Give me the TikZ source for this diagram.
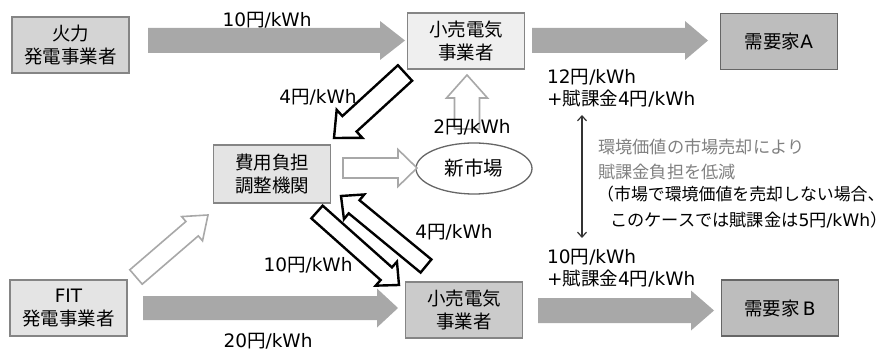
\documentclass[tikz,border=0pt]{standalone}
\usepackage{fontspec}
\setmainfont{Noto Sans CJK JP}
\newfontfamily\lt{DejaVu Sans}
\usetikzlibrary{calc,arrows.meta,shapes.geometric}
\definecolor{bxA}{HTML}{D4D4D4}
\definecolor{bxL}{HTML}{EFEFEF}
\definecolor{bxD}{HTML}{BDBDBD}
\definecolor{bxM}{HTML}{CBCBCB}
\definecolor{bxF}{HTML}{E4E4E4}
\definecolor{arrG}{HTML}{A8A8A8}
\definecolor{edgeG}{HTML}{858585}
\definecolor{txtG}{HTML}{808080}
\newcommand{\blkarrow}[7]{%
  \coordinate (#1-h) at ($(#3)!#6!(#2)$);
  \draw[#7] ($(#2)!#4!90:(#3)$) -- ($(#1-h)!#4!90:(#3)$) -- ($(#1-h)!#5!90:(#3)$) -- (#3)
    -- ($(#1-h)!#5!-90:(#3)$) -- ($(#1-h)!#4!-90:(#3)$) -- ($(#2)!#4!-90:(#3)$) -- cycle;}
\newcommand{\yen}[2]{{\lt #1}円{\lt /kWh}#2}
\tikzset{
  box/.style={draw=edgeG, line width=1.3pt, minimum width=117pt, minimum height=56pt,
    align=center, inner sep=0pt, font=\fontsize{18.5}{23}\selectfont},
  lbl/.style={font=\fontsize{18.5}{22}\selectfont, inner sep=0pt},
  note/.style={font=\fontsize{17.2}{22}\selectfont, inner sep=0pt, anchor=west},
  garrow/.style={fill=arrG, draw=none},
  barrow/.style={fill=white, draw=black, line width=2.4pt, line join=miter},
  larrow/.style={fill=white, draw=arrG, line width=1.6pt, line join=miter},
}
\begin{document}
\begin{tikzpicture}[x=1pt,y=-1pt]
\useasboundingbox (0,0) rectangle (890,352);
% boxes
\node[box, fill=bxA] (hk) at (70.5,45) {火力\\発電事業者};
\node[box, fill=bxL] (k1) at (466,41) {小売電気\\事業者};
\node[box, fill=bxD, draw=black!60] (ja) at (779,41.5) {需要家{\lt A}};
\node[box, fill=bxF, minimum height=58pt] (hy) at (272,174) {費用負担\\調整機関};
\node[ellipse, draw=black!60, line width=1.3pt, minimum width=116pt, minimum height=51pt,
  inner sep=0pt, font=\fontsize{19.5}{23}\selectfont] (sm) at (474,168.5) {新市場};
\node[box, fill=bxF] (fit) at (68.5,308) {{\lt FIT}\\発電事業者};
\node[box, fill=bxM] (k2) at (464,310) {小売電気\\事業者};
\node[box, fill=bxD, draw=black!60] (jb) at (780,308) {需要家{\lt\hspace{3pt}B}};
% big gray arrows
\coordinate (g1t) at (148,40.5); \coordinate (g1p) at (405,40.5);
\blkarrow{g1}{g1t}{g1p}{12.5pt}{19.5pt}{25pt}{garrow}
\coordinate (g2t) at (532,40.5); \coordinate (g2p) at (708,40.5);
\blkarrow{g2}{g2t}{g2p}{12.5pt}{19.5pt}{23pt}{garrow}
\coordinate (g3t) at (143,308); \coordinate (g3p) at (398,308);
\blkarrow{g3}{g3t}{g3p}{12pt}{19.5pt}{21pt}{garrow}
\coordinate (g4t) at (538,310.5); \coordinate (g4p) at (714,310.5);
\blkarrow{g4}{g4t}{g4p}{12.5pt}{20pt}{23pt}{garrow}
% outline gray arrows
\coordinate (a1t) at (467,129); \coordinate (a1p) at (467,75);
\blkarrow{a1}{a1t}{a1p}{12.5pt}{20.5pt}{23pt}{larrow}
\coordinate (a2t) at (343,168); \coordinate (a2p) at (417,168);
\blkarrow{a2}{a2t}{a2p}{10pt}{18.5pt}{19pt}{larrow}
\coordinate (a3t) at (136,277); \coordinate (a3p) at (208,215);
\blkarrow{a3}{a3t}{a3p}{9.5pt}{16pt}{21pt}{larrow}
% outline black arrows
\coordinate (b1t) at (405,73); \coordinate (b1p) at (334,138);
\blkarrow{b1}{b1t}{b1p}{10.5pt}{19pt}{21pt}{barrow}
\coordinate (b2t) at (317,212); \coordinate (b2p) at (399,285);
\blkarrow{b2}{b2t}{b2p}{8.5pt}{16pt}{17pt}{barrow}
\coordinate (b3t) at (426,266); \coordinate (b3p) at (341,196);
\blkarrow{b3}{b3t}{b3p}{8.5pt}{16pt}{17pt}{barrow}
% labels
\node[lbl] (l1) at (267,20) {\yen{10}{}};
\node[lbl] (l2) at (318,97) {\yen{4}{}};
\node[lbl] (l3) at (472,127) {\yen{2}{}};
\node[lbl, anchor=west] (l4) at (547,77) {\yen{12}{}};
\node[lbl, anchor=west] (l5) at (547,99) {{\lt +}賦課金\yen{4}{}};
\node[note, text=txtG] (l6) at (598,147) {環境価値の市場売却により};
\node[note, text=txtG] (l7) at (598,172) {賦課金負担を低減};
\node[note, font=\fontsize{16.9}{22}\selectfont] (l8) at (597,194) {（市場で環境価値を売却しない場合、};
\node[note] (l9) at (610,220) {このケースでは賦課金は\yen{5}{}）};
\node[lbl, anchor=west] (l10) at (547,257) {\yen{10}{}};
\node[lbl, anchor=west] (l11) at (547,279) {{\lt +}賦課金\yen{4}{}};
\node[lbl] (l12) at (454,232) {\yen{4}{}};
\node[lbl] (l13) at (308,265) {\yen{10}{}};
\node[lbl] (l14) at (268,341) {\yen{20}{}};
% double arrow
\coordinate (v1) at (582,115); \coordinate (v2) at (582,238);
\draw[black!80, line width=1.2pt, {Straight Barb[length=5pt,width=9pt]}-{Straight Barb[length=5pt,width=9pt]}] (v1) -- (v2);
\end{tikzpicture}
\end{document}
